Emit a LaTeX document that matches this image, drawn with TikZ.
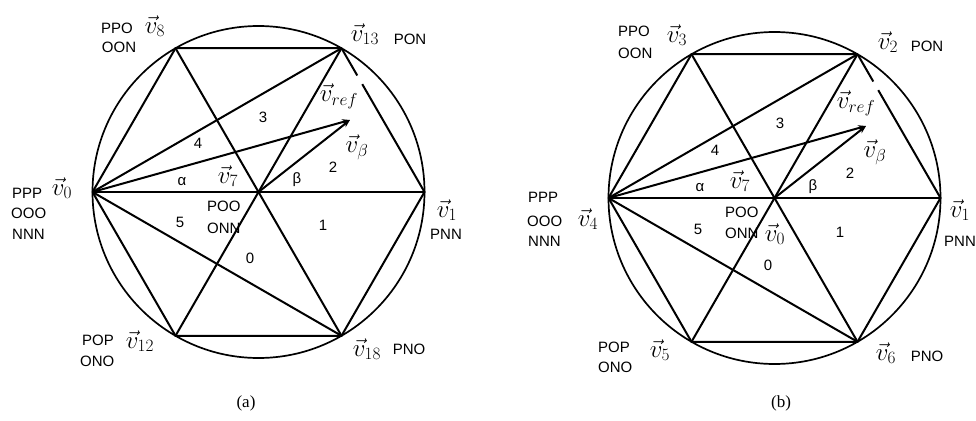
\documentclass[tikz,border=0pt]{standalone}
\usepackage{fontspec}
\newfontfamily\lsans{Liberation Sans}
\newfontfamily\lserif{Liberation Serif}
\usetikzlibrary{arrows.meta,calc}
\tikzset{
  ln/.style={line width=2pt},
  circ/.style={line width=1.7pt},
  vecarrow/.style={line width=2pt,-{Stealth[length=8pt,width=6pt]}},
  tx/.style={font=\lsans\fontsize{15}{17}\selectfont,inner sep=0pt},
  vl/.style={font=\fontsize{25}{28}\selectfont,inner sep=0pt},
  captxt/.style={font=\lserif\fontsize{17}{20}\selectfont,inner sep=0pt},
}
\begin{document}
\begin{tikzpicture}[x=1pt,y=-1pt]
\useasboundingbox (0,0) rectangle (976,420);

% ---------------- (a) ----------------
\coordinate (aO) at (258.5,192);
\coordinate (a0) at (92.5,192);
\coordinate (a1) at (424.5,192);
\coordinate (a8) at (175.5,48.2);
\coordinate (a13) at (341.5,48.2);
\coordinate (a12) at (175.5,335.8);
\coordinate (a18) at (341.5,335.8);
\coordinate (aT) at (350,120);

\draw[circ] (aO) circle[radius=166];
\draw[ln] (a0) -- (a8) -- (a13);
\draw[ln] (a13) -- ($(a13)!0.19!(a1)$);
\draw[ln] ($(a13)!0.25!(a1)$) -- (a1) -- (a18) -- (a12) -- (a0);
\draw[ln] (a0) -- (a1);
\draw[ln] (a8) -- (a18);
\draw[ln] (a13) -- (a12);
\draw[ln] (a0) -- (a13);
\draw[ln] (a0) -- (a18);
\draw[vecarrow] (a0) -- (aT);
\draw[vecarrow] (aO) -- (aT);

\node[tx] (aPPO) at (117,28) {PPO};
\node[tx] (aOON) at (119,47) {OON};
\node[vl] (aL8) at (155,26) {$\vec{v}_8$};
\node[vl] (aL13) at (365,34) {$\vec{v}_{13}$};
\node[tx] (aPON) at (410,39) {PON};
\node[vl] (aLref) at (339,96) {$\vec{v}_{ref}$};
\node[vl] (aLb) at (357,147) {$\vec{v}_\beta$};
\node[tx] (aR3) at (263,117) {3};
\node[tx] (aR2) at (333,167) {2};
\node[tx] (aB) at (297,180) {β};
\node[tx] (aR4) at (198,143) {4};
\node[tx] (aA) at (182,182) {α};
\node[vl] (aL7) at (228,176) {$\vec{v}_7$};
\node[tx,anchor=west] (aPOO) at (207,206) {POO};
\node[tx,anchor=west] (aONN) at (207,228) {ONN};
\node[tx] (aR5) at (180,222) {5};
\node[tx] (aR1) at (323,225) {1};
\node[tx] (aR0) at (250,258) {0};
\node[tx,anchor=west] (aPPP) at (12,193) {PPP};
\node[tx,anchor=west] (aOOO) at (11,213) {OOO};
\node[tx,anchor=west] (aNNN) at (12,234) {NNN};
\node[vl] (aL0) at (62,188) {$\vec{v}_0$};
\node[vl] (aL1) at (447,210) {$\vec{v}_1$};
\node[tx,anchor=west] (aPNN) at (430,234) {PNN};
\node[tx,anchor=west] (aPOP) at (82,340) {POP};
\node[tx,anchor=west] (aONO) at (80,361) {ONO};
\node[vl] (aL12) at (140,341) {$\vec{v}_{12}$};
\node[vl] (aL18) at (367,349) {$\vec{v}_{18}$};
\node[tx] (aPNO) at (409,349) {PNO};
\node[captxt] (acap) at (246,403) {(a)};

% ---------------- (b) ----------------
\coordinate (bO) at (774.5,198);
\coordinate (b4) at (608.5,198);
\coordinate (b1) at (940.5,198);
\coordinate (b3) at (691.5,54.2);
\coordinate (b2) at (857.5,54.2);
\coordinate (b5) at (691.5,341.8);
\coordinate (b6) at (857.5,341.8);
\coordinate (bT) at (866,126);

\draw[circ] (bO) circle[radius=166];
\draw[ln] (b4) -- (b3) -- (b2);
\draw[ln] (b2) -- ($(b2)!0.19!(b1)$);
\draw[ln] ($(b2)!0.25!(b1)$) -- (b1) -- (b6) -- (b5) -- (b4);
\draw[ln] (b4) -- (b1);
\draw[ln] (b3) -- (b6);
\draw[ln] (b2) -- (b5);
\draw[ln] (b4) -- (b2);
\draw[ln] (b4) -- (b6);
\draw[vecarrow] (b4) -- (bT);
\draw[vecarrow] (bO) -- (bT);

\node[tx,anchor=west] (bPPO) at (618,31) {PPO};
\node[tx,anchor=west] (bOON) at (618,53) {OON};
\node[vl] (bL3) at (677,35) {$\vec{v}_3$};
\node[vl] (bL2) at (888,42) {$\vec{v}_2$};
\node[tx] (bPON) at (927,46) {PON};
\node[vl] (bLref) at (856,103) {$\vec{v}_{ref}$};
\node[vl] (bLb) at (875,152) {$\vec{v}_\beta$};
\node[tx] (bR3) at (780,123) {3};
\node[tx] (bR2) at (850,173) {2};
\node[tx] (bB) at (813,187) {β};
\node[tx] (bR4) at (715,150) {4};
\node[tx] (bA) at (700,188) {α};
\node[vl] (bL7) at (740,181) {$\vec{v}_7$};
\node[tx,anchor=west] (bPOO) at (725,212) {POO};
\node[tx,anchor=west] (bONN) at (725,233) {ONN};
\node[vl] (bL0) at (775,234) {$\vec{v}_0$};
\node[tx] (bR5) at (698,229) {5};
\node[tx] (bR1) at (840,232) {1};
\node[tx] (bR0) at (768,265) {0};
\node[tx,anchor=west] (bPPP) at (528,197) {PPP};
\node[tx,anchor=west] (bOOO) at (527,221) {OOO};
\node[tx,anchor=west] (bNNN) at (528,241) {NNN};
\node[vl] (bL4) at (588,219) {$\vec{v}_4$};
\node[vl] (bL1) at (960,210) {$\vec{v}_1$};
\node[tx,anchor=west] (bPNN) at (944,241) {PNN};
\node[tx,anchor=west] (bPOP) at (598,347) {POP};
\node[tx,anchor=west] (bONO) at (598,367) {ONO};
\node[vl] (bL5) at (660,350) {$\vec{v}_5$};
\node[vl] (bL6) at (886,353) {$\vec{v}_6$};
\node[tx] (bPNO) at (927,356) {PNO};
\node[captxt] (bcap) at (781,403) {(b)};
\end{tikzpicture}
\end{document}
